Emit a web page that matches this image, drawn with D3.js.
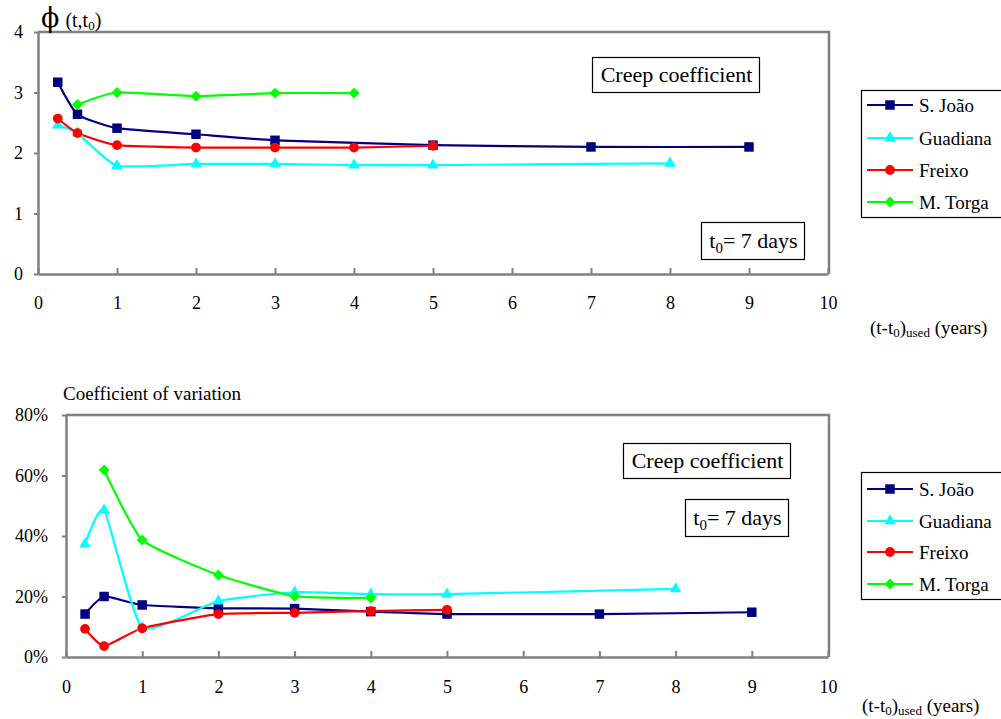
<!DOCTYPE html>
<html>
<head>
<meta charset="utf-8">
<script src="https://cdn.jsdelivr.net/npm/d3@7"></script>
<style>
  html, body { margin: 0; padding: 0; background: #fff; }
  svg { display: block; }
</style>
</head>
<body>
<svg id="chart" width="1001" height="719" font-family="Liberation Serif"></svg>
<script>
// ---------- DATA ----------
const seriesNames = ["S. João", "Guadiana", "Freixo", "M. Torga"];
const seriesColors = ["#000080", "#00FFFF", "#FF0000", "#00FF00"];
const seriesSymbols = ["square", "triangle", "circle", "diamond"];

const xTicks = [0, 1, 2, 3, 4, 5, 6, 7, 8, 9, 10];
const phiTicks = [0, 1, 2, 3, 4];
const cvTicks = [0, 0.2, 0.4, 0.6, 0.8];

// Creep coefficient phi(t,t0)
const phiSJoao    = [[0.25, 3.17], [0.5, 2.64], [1, 2.41], [2, 2.31], [3, 2.21], [5, 2.13], [7, 2.10], [9, 2.10]];
const phiGuadiana = [[0.25, 2.46], [0.5, 2.33], [1, 1.79], [2, 1.82], [3, 1.82], [4, 1.80], [5, 1.80], [8, 1.83]];
const phiFreixo   = [[0.25, 2.57], [0.5, 2.33], [1, 2.13], [2, 2.09], [3, 2.09], [4, 2.09], [5, 2.12]];
const phiMTorga   = [[0.5, 2.80], [1, 3.00], [2, 2.94], [3, 2.99], [4, 2.99]];

// Coefficient of variation
const cvSJoao    = [[0.25, 0.142], [0.5, 0.200], [1, 0.172], [2, 0.161], [3, 0.160], [4, 0.150], [5, 0.142], [7, 0.142], [9, 0.148]];
const cvGuadiana = [[0.25, 0.374], [0.5, 0.486], [1, 0.097], [2, 0.185], [3, 0.214], [4, 0.208], [5, 0.208], [8, 0.225]];
const cvFreixo   = [[0.25, 0.093], [0.5, 0.036], [1, 0.095], [2, 0.142], [3, 0.146], [4, 0.152], [5, 0.156]];
const cvMTorga   = [[0.5, 0.618], [1, 0.387], [2, 0.271], [3, 0.201], [4, 0.195]];

const phiSeries = [phiSJoao, phiGuadiana, phiFreixo, phiMTorga];
const cvSeries = [cvSJoao, cvGuadiana, cvFreixo, cvMTorga];

// ---------- DRAWING ----------
const FONT = "Liberation Serif";
const svg = d3.select("#chart");
const AXIS = "#808080";

const rotatedSquare = {
  draw(ctx, size) {
    const r = Math.sqrt(size / 2);
    ctx.moveTo(0, -r); ctx.lineTo(r, 0); ctx.lineTo(0, r); ctx.lineTo(-r, 0); ctx.closePath();
  }
};
function symbolPath(type) {
  const map = {
    square: d3.symbolSquare,
    triangle: d3.symbolTriangle,
    circle: d3.symbolCircle,
    diamond: rotatedSquare
  };
  const size = {square: 90, triangle: 58, circle: 75, diamond: 60}[type];
  return d3.symbol().type(map[type]).size(size)();
}

function drawPanel(opt) {
  const g = svg.append("g").attr("font-family", FONT);
  const x = d3.scaleLinear().domain([0, 10]).range([opt.left, opt.right]);
  const y = d3.scaleLinear().domain(opt.yDomain).range([opt.bottom, opt.top]);

  // plot border (top and right)
  g.append("path")
    .attr("d", `M${opt.left},${opt.top}H${opt.right + 1}V${opt.bottom}`)
    .attr("fill", "none").attr("stroke", AXIS).attr("stroke-width", 2.5);

  // x axis (ticks inward)
  const xAxis = g.append("g").attr("transform", `translate(0,${opt.bottom})`)
    .call(d3.axisBottom(x).tickValues(xTicks).tickSize(-6).tickSizeOuter(0).tickFormat(d3.format("d")));
  xAxis.attr("font-family", FONT);
  xAxis.select(".domain").attr("stroke", AXIS).attr("stroke-width", 2.5);
  xAxis.selectAll(".tick line").attr("stroke", AXIS).attr("stroke-width", 2);
  xAxis.selectAll(".tick text").attr("fill", "#000").attr("font-size", 18)
    .attr("font-family", FONT).attr("y", 0).attr("dy", opt.xLabelOffset);

  // y axis (ticks outward)
  const yAxis = g.append("g").attr("transform", `translate(${opt.left},0)`)
    .call(d3.axisLeft(y).tickValues(opt.yTicks).tickSize(4).tickSizeOuter(0).tickFormat(opt.yFormat));
  yAxis.attr("font-family", FONT);
  yAxis.select(".domain").attr("stroke", AXIS).attr("stroke-width", 2.5);
  yAxis.selectAll(".tick line").attr("stroke", AXIS).attr("stroke-width", 2);
  yAxis.selectAll(".tick text").attr("fill", "#000").attr("font-size", 18)
    .attr("font-family", FONT).attr("x", -opt.yLabelGap).attr("dy", "0.33em");

  // lines
  const line = d3.line().x(d => x(d[0])).y(d => y(d[1])).curve(d3.curveCardinal.tension(0.5));
  opt.series.forEach((data, i) => {
    g.append("path").datum(data).attr("d", line)
      .attr("fill", "none").attr("stroke", seriesColors[i]).attr("stroke-width", 2.2);
  });
  opt.series.forEach((data, i) => {
    g.selectAll(null).data(data).enter().append("path")
      .attr("d", symbolPath(seriesSymbols[i]))
      .attr("transform", d => `translate(${x(d[0])},${y(d[1])})`)
      .attr("fill", seriesColors[i]);
  });

  // x-axis title
  const xt = g.append("text").attr("x", opt.xTitleX).attr("y", opt.xTitleY)
    .attr("font-size", 19).attr("fill", "#000").attr("font-family", FONT);
  xt.append("tspan").text("(t-t");
  xt.append("tspan").attr("font-size", 13).attr("dy", 3).text("0");
  xt.append("tspan").attr("dy", -3).text(")");
  xt.append("tspan").attr("font-size", 13).attr("dy", 3).text("used");
  xt.append("tspan").attr("dy", -3).text(" (years)");

  // boxes
  function box(x0, y0, x1, y1) {
    g.append("rect").attr("x", x0 + 0.5).attr("y", y0 + 0.5)
      .attr("width", x1 - x0).attr("height", y1 - y0)
      .attr("fill", "#fff").attr("stroke", "#000").attr("stroke-width", 1.2);
  }
  const cb = opt.creepBox;
  box(cb[0], cb[1], cb[2], cb[3]);
  g.append("text").attr("x", (cb[0] + cb[2]) / 2 + 1).attr("y", (cb[1] + cb[3]) / 2 + 7.5)
    .attr("text-anchor", "middle").attr("font-size", 22).attr("fill", "#000")
    .attr("font-family", FONT).text("Creep coefficient");
  const tb = opt.t0Box;
  box(tb[0], tb[1], tb[2], tb[3]);
  const tt = g.append("text").attr("x", (tb[0] + tb[2]) / 2 + 1).attr("y", (tb[1] + tb[3]) / 2 + 7.5)
    .attr("text-anchor", "middle").attr("font-size", 22).attr("fill", "#000").attr("font-family", FONT);
  tt.append("tspan").text("t");
  tt.append("tspan").attr("font-size", 15).attr("dy", 5).text("0");
  tt.append("tspan").attr("dy", -5).text("= 7 days");

  // legend
  const lg = opt.legend;
  g.append("rect").attr("x", lg.x + 0.5).attr("y", lg.y + 0.5).attr("width", 150).attr("height", lg.h)
    .attr("fill", "#fff").attr("stroke", "#000").attr("stroke-width", 1.2);
  seriesNames.forEach((name, i) => {
    const cy = lg.rows[i];
    g.append("line").attr("x1", lg.x + 6).attr("x2", lg.x + 52).attr("y1", cy).attr("y2", cy)
      .attr("stroke", seriesColors[i]).attr("stroke-width", 2.2);
    g.append("path").attr("d", symbolPath(seriesSymbols[i]))
      .attr("transform", `translate(${lg.x + 29},${cy})`).attr("fill", seriesColors[i]);
    g.append("text").attr("x", lg.x + 58).attr("y", cy + 6.5).attr("font-size", 19)
      .attr("fill", "#000").attr("font-family", FONT).text(name);
  });
  return g;
}

// top panel
const topPanel = drawPanel({
  left: 38, right: 828, top: 32, bottom: 274,
  yDomain: [0, 4], yTicks: phiTicks, yFormat: d3.format("d"), yLabelGap: 15,
  series: phiSeries, xLabelOffset: 35,
  xTitleX: 870, xTitleY: 334,
  creepBox: [592, 57, 759, 92], t0Box: [701, 222, 804, 259],
  legend: {x: 861, y: 90, h: 127, rows: [105, 138, 170, 202]}
});
// phi label
const phiT = topPanel.append("text").attr("x", 41).attr("y", 27).attr("fill", "#000").attr("font-family", FONT);
phiT.append("tspan").attr("font-size", 27).attr("font-family", "DejaVu Serif").text("ϕ");
phiT.append("tspan").attr("font-size", 20).attr("dx", 6).text("(t,t");
phiT.append("tspan").attr("font-size", 13).attr("dy", 3).text("0");
phiT.append("tspan").attr("font-size", 20).attr("dy", -3).text(")");

// bottom panel
const bottomPanel = drawPanel({
  left: 66, right: 828, top: 415, bottom: 657,
  yDomain: [0, 0.8], yTicks: cvTicks, yFormat: d3.format(".0%"), yLabelGap: 18,
  series: cvSeries, xLabelOffset: 36,
  xTitleX: 862, xTitleY: 712,
  creepBox: [623, 443, 790, 478], t0Box: [685, 499, 788, 536],
  legend: {x: 861, y: 472, h: 127, rows: [489, 521, 552, 584]}
});
bottomPanel.append("text").attr("x", 63).attr("y", 400).attr("font-size", 19).attr("fill", "#000")
  .attr("font-family", FONT).text("Coefficient of variation");
</script>
</body>
</html>
